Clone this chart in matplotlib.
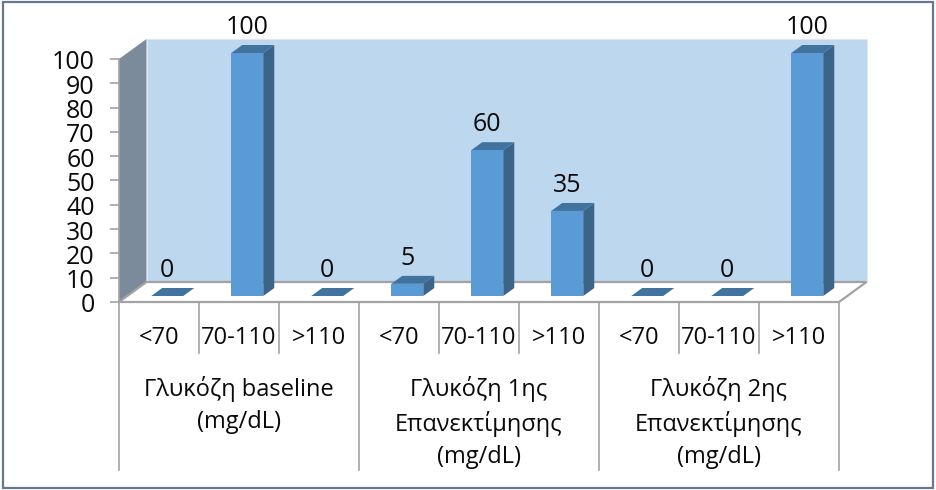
import matplotlib
matplotlib.use("Agg")
import matplotlib.pyplot as plt
from matplotlib.patches import Polygon, Rectangle
from matplotlib.transforms import ScaledTranslation

# ---- data ----
range_labels = ["<70", "70-110", ">110", "<70", "70-110", ">110", "<70", "70-110", ">110"]
group_labels = ["Γλυκόζη baseline\n(mg/dL)",
                "Γλυκόζη 1ης\nΕπανεκτίμησης\n(mg/dL)",
                "Γλυκόζη 2ης\nΕπανεκτίμησης\n(mg/dL)"]
values = [0, 100, 0, 5, 60, 35, 0, 0, 100]
y_ticks = [0, 10, 20, 30, 40, 50, 60, 70, 80, 90, 100]

# ---- style ----
W, H = 936, 490
L_PX, R_PX, B_PX, T_PX = 119, 839, 302, 59
DEPTH_X, DEPTH_Y = 27.5, 20.0      # px shift of the back wall
BAR_D0, BAR_D1 = 0.30, 0.70        # bar depth range
BAR_W = 0.40
FONT = 17.0
NUM_FONT = 18.0
FRONT, SIDE, TOP = "#5B9BD5", "#3A6488", "#41739F"
WALL, SIDE_WALL, GRID = "#BDD7EE", "#7B8B9B", "#A3A3A3"
TXT = "#0a0a0a"

plt.rcParams["font.family"] = ["Open Sans", "DejaVu Sans"]
fig = plt.figure(figsize=(W / 100, H / 100), dpi=100, facecolor="white")
ax = fig.add_axes([L_PX / W, 1 - B_PX / H, (R_PX - L_PX) / W, (B_PX - T_PX) / H])
n = len(values)
ax.set_xlim(0, n)
ax.set_ylim(0, y_ticks[-1])
ax.patch.set_visible(False)
for s in ax.spines.values():
    s.set_visible(False)

px_x = (R_PX - L_PX) / n            # px per category
px_y = (B_PX - T_PX) / y_ticks[-1]  # px per unit


def proj(x, y, d):
    """Data position of (x, y) pushed back by depth d (0 = front, 1 = wall)."""
    return (x + d * DEPTH_X / px_x, y + d * DEPTH_Y / px_y)


def face(points, color, z, **kw):
    ax.add_patch(Polygon(points, closed=True, facecolor=color, clip_on=False, zorder=z, **kw))


# walls and floor
top = y_ticks[-1]
face([proj(0, 0, 1), proj(n, 0, 1), proj(n, top, 1), proj(0, top, 1)], WALL, 1, edgecolor="#DCE9F5", lw=0.8)
face([proj(0, 0, 0), proj(0, top, 0), proj(0, top, 1), proj(0, 0, 1)], SIDE_WALL, 2, lw=0)
face([proj(0, 0, 0), proj(n, 0, 0), proj(n, 0, 1), proj(0, 0, 1)], "white", 2, edgecolor=GRID, lw=1.6)

# bars
xs = [i + 0.5 for i in range(n)]
ox, oy = proj(0, 0, BAR_D0)
bars = ax.bar([x + ox for x in xs], values, width=BAR_W, bottom=oy, color=FRONT,
              linewidth=0, zorder=5)
for b in bars:
    b.set_clip_on(False)
for x, v in zip(xs, values):
    x0, x1 = x - BAR_W / 2, x + BAR_W / 2
    face([proj(x1, 0, BAR_D0), proj(x1, v, BAR_D0), proj(x1, v, BAR_D1), proj(x1, 0, BAR_D1)],
         SIDE, 4, lw=0)
    face([proj(x0, v, BAR_D0), proj(x1, v, BAR_D0), proj(x1, v, BAR_D1), proj(x0, v, BAR_D1)],
         TOP, 4, lw=0)
    ax.annotate(str(v), xy=proj(x, v, BAR_D0), xytext=(0, 18.5), textcoords="offset points",
                ha="center", va="center", fontsize=NUM_FONT, color=TXT, zorder=6, annotation_clip=False)

# value axis
ax.set_xticks([])
ax.set_yticks(y_ticks)
ax.tick_params(axis="y", direction="out", length=6.5, width=1.2, color=GRID,
               pad=11, labelsize=NUM_FONT, labelcolor=TXT)
shift = ScaledTranslation(0, -4 / 100, fig.dpi_scale_trans)  # 4 px down at 100 dpi
for t in ax.get_yticklabels():
    t.set_verticalalignment("center")
    t.set_transform(t.get_transform() + shift)
ax.plot([0, 0], [0, top], color=GRID, lw=1.2, zorder=3, clip_on=False)

# category axis
y_short = -(353 - B_PX) / px_y
y_long = -(470 - B_PX) / px_y
for i in range(n + 1):
    bottom = y_long if i % 3 == 0 else y_short
    ax.plot([i, i], [0, bottom], color=GRID, lw=1.2, clip_on=False, zorder=3)
for x, lab in zip(xs, range_labels):
    ax.text(x, -(338 - B_PX) / px_y, lab, ha="center", va="center", fontsize=FONT, color=TXT)
for k, lab in enumerate(group_labels):
    ax.text(3 * k + 1.5, -(375.5 - B_PX) / px_y, lab, ha="center", va="top", fontsize=FONT,
            color=TXT, linespacing=1.46)

# outer frame
fig.add_artist(Rectangle((2.5 / W, 1 - 487.5 / H), 930.5 / W, 485.5 / H, transform=fig.transFigure,
                         fill=False, edgecolor="#66788F", lw=1.6))

fig.savefig("out.png", dpi=100, facecolor="white")
